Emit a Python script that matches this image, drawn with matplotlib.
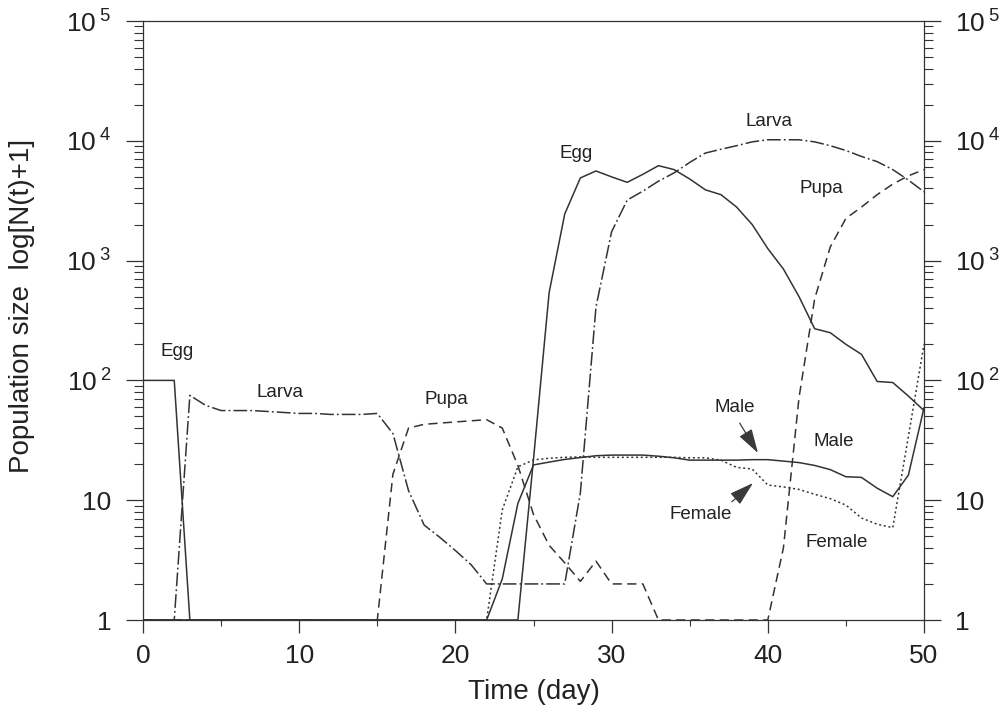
import matplotlib
matplotlib.use("Agg")
import matplotlib.pyplot as plt
from matplotlib.ticker import FixedLocator, FuncFormatter, LogLocator, NullFormatter, MultipleLocator
import numpy as np

plt.rcParams['font.family'] = ['Liberation Sans', 'DejaVu Sans']
plt.rcParams['mathtext.fontset'] = 'custom'
plt.rcParams['mathtext.rm'] = 'Liberation Sans'
plt.rcParams['mathtext.it'] = 'Liberation Sans'

# ---- data: population size N(t)+1 per day ----
days = list(range(0, 51))

egg = [100, 100, 100, 1, 1, 1, 1, 1, 1, 1,
       1, 1, 1, 1, 1, 1, 1, 1, 1, 1,
       1, 1, 1, 1, 1, 22, 540, 2450, 4900, 5600,
       5000, 4500, 5250, 6200, 5750, 4800, 3900, 3550, 2800, 2000,
       1260, 850, 500, 270, 250, 200, 165, 98, 96, 74,
       56]

larva = [1, 1, 1, 75, 62, 56, 56, 56, 55, 54,
         53, 53, 52, 52, 52, 53, 36, 12, 6.2, 4.9,
         3.8, 2.9, 2, 2, 2, 2, 2, 2, 11.5, 410,
         1740, 3200, 3800, 4600, 5400, 6600, 7900, 8500, 9100, 9800,
         10200, 10200, 10200, 9800, 9100, 8300, 7400, 6700, 5750, 4700,
         3750]

pupa = [1, 1, 1, 1, 1, 1, 1, 1, 1, 1,
        1, 1, 1, 1, 1, 1, 16.5, 40, 43, 44,
        45, 46, 47, 40, 19.5, 7.6, 4.2, 3, 2.1, 3.1,
        2, 2, 2, 1, 1, 1, 1, 1, 1, 1,
        1, 4, 72, 480, 1300, 2250, 2800, 3550, 4350, 5100,
        5750]

male = [1] * 23 + [2.2, 9.4, 19.7, 20.8, 21.9, 22.7, 23.5,
                   23.8, 23.8, 23.8, 23.3, 22.6, 21.6, 21.6, 21.6, 21.6, 21.8,
                   21.8, 21.2, 20.6, 19.5, 18.0, 15.7, 15.5, 12.6, 10.7, 16.2,
                   59]

female = [1] * 23 + [8.3, 19, 21.7, 22.4, 22.8, 23, 22.8,
                     22.8, 22.8, 22.8, 22.8, 22.8, 22.6, 22.6, 21.6, 18.8, 18.2,
                     13.4, 12.9, 12.3, 11.2, 10.3, 9.1, 7.1, 6.3, 5.9, 34,
                     200]

x_ticks = [0, 10, 20, 30, 40, 50]
y_ticks = [1, 10, 100, 1000, 10000, 100000]

ink = '#333333'

fig = plt.figure(figsize=(10.03, 7.21), dpi=100)
ax = fig.add_axes([143 / 1003, 1 - 620 / 721, (924 - 143) / 1003, (620 - 21) / 721])

lw = 1.1
ax.plot(days, egg, color=ink, lw=lw, ls='-')
ax.plot(days, larva, color=ink, lw=lw, ls=(0, (9, 2, 1.2, 2)))
ax.plot(days, pupa, color=ink, lw=lw, ls=(0, (6, 3.5)))
ax.plot(days, male, color=ink, lw=lw, ls='-')
ax.plot(days, female, color=ink, lw=lw, ls=(0, (1.3, 1.8)))

ax.set_yscale('log')
ax.set_xlim(0, 50)
ax.set_ylim(1, 1e5)


def fmt(v, pos):
    e = int(round(np.log10(v)))
    if e == 0:
        return '1'
    if e == 1:
        return '10'
    return r'$\mathregular{10^{\;%d}}$' % e


ax.yaxis.set_major_locator(FixedLocator(y_ticks))
ax.yaxis.set_major_formatter(FuncFormatter(fmt))
ax.yaxis.set_minor_locator(LogLocator(base=10, subs=np.arange(2, 10), numticks=20))
ax.yaxis.set_minor_formatter(NullFormatter())
ax.xaxis.set_major_locator(FixedLocator(x_ticks))
ax.xaxis.set_minor_locator(MultipleLocator(5))

ax.tick_params(axis='y', which='major', direction='out', length=12.5, width=0.9,
               color=ink, labelsize=19, labelcolor='#222222', pad=10,
               left=True, right=True, labelleft=True, labelright=True)
ax.tick_params(axis='y', which='minor', direction='out', length=6.5, width=0.8,
               color=ink, left=True, right=True)
ax.tick_params(axis='x', which='major', direction='out', length=9.5, width=0.9,
               color=ink, labelsize=19, labelcolor='#222222', pad=8, top=False)
ax.tick_params(axis='x', which='minor', direction='out', length=4.5, width=0.8,
               color=ink, top=False)

for s in ax.spines.values():
    s.set_color(ink)
    s.set_linewidth(0.9)

ax.set_xlabel('Time (day)', fontsize=20, color='#222222', labelpad=8)
fig.text(22 / 1003, 1 - 306 / 721, 'Population size  log[N(t)+1]', rotation=90,
         fontsize=20, color='#222222', ha='center', va='center')

tkw = dict(fontsize=13.5, color='#222222', ha='center', va='center')
ax.text(2.2, 175, 'Egg', **tkw)
ax.text(8.8, 80, 'Larva', **tkw)
ax.text(19.4, 69, 'Pupa', **tkw)
ax.text(27.7, 7900, 'Egg', **tkw)
ax.text(40.1, 14400, 'Larva', **tkw)
ax.text(43.4, 4000, 'Pupa', **tkw)
ax.text(37.9, 59, 'Male', **tkw)
ax.text(44.2, 31, 'Male', **tkw)
ax.text(35.7, 7.6, 'Female', **tkw)
ax.text(44.4, 4.4, 'Female', **tkw)

arrow = dict(arrowstyle='-|>,head_length=1.0,head_width=0.3', mutation_scale=15,
             color='#3a3a3a', lw=0.9, shrinkA=0, shrinkB=0)
ax.annotate('', xy=(39.37, 24.8), xytext=(38.2, 44), arrowprops=arrow)
ax.annotate('', xy=(39.05, 13.9), xytext=(37.7, 9.7), arrowprops=arrow)

fig.savefig('out.png', dpi=100, facecolor='white')
